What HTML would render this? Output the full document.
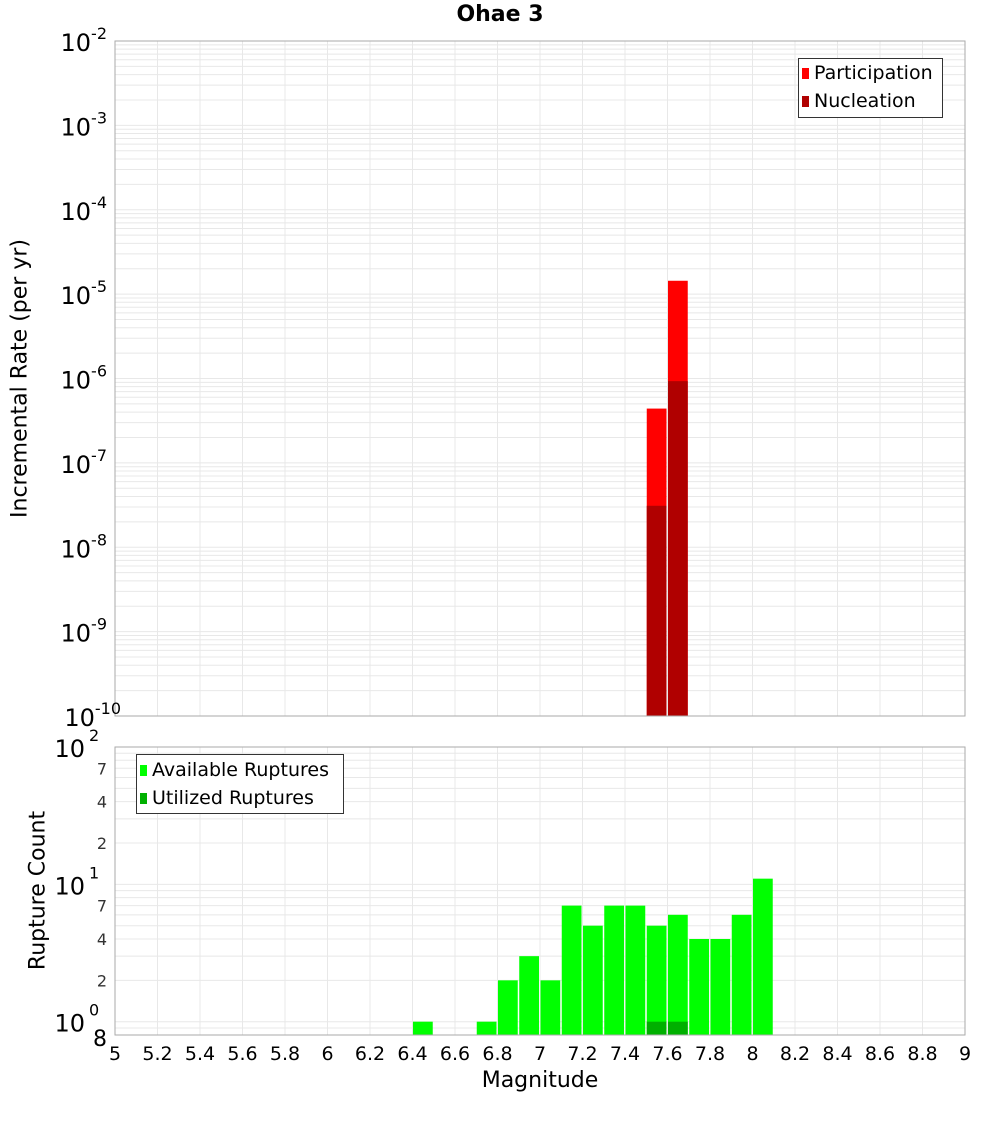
<!DOCTYPE html>
<html><head><meta charset="utf-8"><style>
body{margin:0;background:#fff;font-family:"Liberation Sans","DejaVu Sans",sans-serif}
svg text{font-family:"DejaVu Sans","Liberation Sans",sans-serif}
</style></head><body>
<svg id="c" width="1000" height="1100" xmlns="http://www.w3.org/2000/svg"></svg>
<script>
const bins=[6.45,6.55,6.65,6.75,6.85,6.95,7.05,7.15,7.25,7.35,7.45,7.55,7.65,7.75,7.85,7.95,8.05];
const available=[1,0,0,1,2,3,2,7,5,7,7,5,6,4,4,6,11];
const utilized=[0,0,0,0,0,0,0,0,0,0,0,1,1,0,0,0,0];
const rateBins=[7.55,7.65];
const participation=[4.4e-7,1.44e-5];
const nucleation=[3.1e-8,9.3e-7];
const xTicks=[5,5.2,5.4,5.6,5.8,6,6.2,6.4,6.6,6.8,7,7.2,7.4,7.6,7.8,8,8.2,8.4,8.6,8.8,9];
const topExps=[-2,-3,-4,-5,-6,-7,-8,-9,-10];
const botMinor=[2,4,7,20,40,70];

const svg=document.getElementById('c');const NS='http://www.w3.org/2000/svg';
function el(t,a,p){const e=document.createElementNS(NS,t);for(const k in a)e.setAttribute(k,a[k]);(p||svg).appendChild(e);return e;}
const X0=115,X1=965;
const xs=v=>X0+(v-5)/4*(X1-X0);
const T0=41,T1=716;
const ys=v=>T0+(-2-Math.log10(v))/8*(T1-T0);
const B0=747,B1=1035,bl=Math.log10(0.8);
const yb=v=>B0+(2-Math.log10(v))/(2-bl)*(B1-B0);

// top grid
const gt=el('g',{});

for(let e=-10;e<-2;e++)for(let m=1;m<10;m++){const y=ys(m*Math.pow(10,e));el('line',{x1:X0,x2:X1,y1:y,y2:y,stroke:'#e8e8e8','stroke-width':1},gt);}
xTicks.forEach(t=>{el('line',{x1:xs(t),x2:xs(t),y1:T0,y2:T1,stroke:'#e8e8e8'},gt);el('line',{x1:xs(t),x2:xs(t),y1:B0,y2:B1,stroke:'#e8e8e8'},gt);});
for(let e=-1;e<2;e++)for(let m=1;m<10;m++){const v=m*Math.pow(10,e);if(v<0.8)continue;const y=yb(v);el('line',{x1:X0,x2:X1,y1:y,y2:y,stroke:'#e8e8e8'},gt);}
// top bars
rateBins.forEach((b,i)=>{
 let r=el('rect',{x:xs(b-0.05)+0.5,y:ys(participation[i]),width:xs(5.1)-X0-1.5,height:T1-ys(participation[i]),fill:'#ff0000'});
 
 r=el('rect',{x:xs(b-0.05)+0.5,y:ys(nucleation[i]),width:xs(5.1)-X0-1.5,height:T1-ys(nucleation[i]),fill:'#b00000'});
 
});
// bottom bars
bins.forEach((b,i)=>{
 if(available[i]>0){const r=el('rect',{x:xs(b-0.05)+0.5,y:yb(available[i]),width:xs(5.1)-X0-1.5,height:B1-yb(available[i]),fill:'#00ff00'});
 }
 if(utilized[i]>0){const r=el('rect',{x:xs(b-0.05)+0.5,y:yb(utilized[i]),width:xs(5.1)-X0-1.5,height:B1-yb(utilized[i]),fill:'#00b000'});
 }
});
el('rect',{x:X0,y:T0,width:X1-X0,height:T1-T0,fill:'none',stroke:'#aaa'});
el('rect',{x:X0,y:B0,width:X1-X0,height:B1-B0,fill:'none',stroke:'#aaa'});
// top y labels
topExps.forEach(e=>{const y=ys(Math.pow(10,e));
 const t=el('text',{x:X0-8,y:y+10,'font-size':24,'text-anchor':'end',fill:'#000'});
 
 t.innerHTML='10<tspan dy="-12" font-size="16">'+e+'</tspan>';
 if(String(e).length>2) t.setAttribute('x',X0+6);
});
// bottom y labels
[[100,'2'],[10,'1'],[1,'0']].forEach(([v,e])=>{const y=yb(v);
 const t=el('text',{x:X0-30,y:y+10,'font-size':24,'text-anchor':'end'});
 
 t.innerHTML='10';
 const s=el('text',{x:X0-26,y:y-6,'font-size':16});s.textContent=e;
 
});
botMinor.forEach(v=>{const t=el('text',{x:X0-8,y:yb(v)+6,'font-size':16,'text-anchor':'end',fill:'#333'});t.textContent=v>9?v/10:v;
 });
{const t=el('text',{x:X0-8,y:B1+11,'font-size':22,'text-anchor':'end'});t.textContent='8';}
// x labels
xTicks.forEach(v=>{const t=el('text',{x:xs(v),y:1060,'font-size':19,'text-anchor':'middle'});t.textContent=String(v);
 });
</script>
<svg width="0" height="0"></svg>
<div style="position:absolute;left:0;top:0;width:1000px;height:1100px;pointer-events:none">
<div style="position:absolute;left:0;width:1000px;top:2px;text-align:center;font:bold 22px 'DejaVu Sans','Liberation Sans',sans-serif">Ohae 3</div>
<div style="position:absolute;left:440px;width:200px;top:1068px;text-align:center;font:22px 'DejaVu Sans','Liberation Sans',sans-serif">Magnitude</div>
<div style="position:absolute;left:-130px;top:366px;width:300px;text-align:center;transform:rotate(-90deg);font:22px 'DejaVu Sans','Liberation Sans',sans-serif">Incremental Rate (per yr)</div>
<div style="position:absolute;left:-62px;top:878px;width:200px;text-align:center;transform:rotate(-90deg);font:22px 'DejaVu Sans','Liberation Sans',sans-serif">Rupture Count</div>
<div style="position:absolute;left:798px;top:58px;width:143px;height:58px;border:1px solid #333;background:#fff;font:19px 'DejaVu Sans','Liberation Sans',sans-serif">
 <div style="position:absolute;left:3px;top:3px"><span style="display:inline-block;width:7px;height:11px;background:#f00;margin-right:5px"></span>Participation</div>
 <div style="position:absolute;left:3px;top:31px"><span style="display:inline-block;width:7px;height:11px;background:#b00000;margin-right:5px"></span>Nucleation</div>
</div>
<div style="position:absolute;left:136px;top:754px;width:206px;height:58px;border:1px solid #333;background:#fff;font:19px 'DejaVu Sans','Liberation Sans',sans-serif">
 <div style="position:absolute;left:3px;top:4px"><span style="display:inline-block;width:7px;height:11px;background:#0f0;margin-right:5px"></span>Available Ruptures</div>
 <div style="position:absolute;left:3px;top:32px"><span style="display:inline-block;width:7px;height:11px;background:#00b000;margin-right:5px"></span>Utilized Ruptures</div>
</div>
</div>
</body></html>
